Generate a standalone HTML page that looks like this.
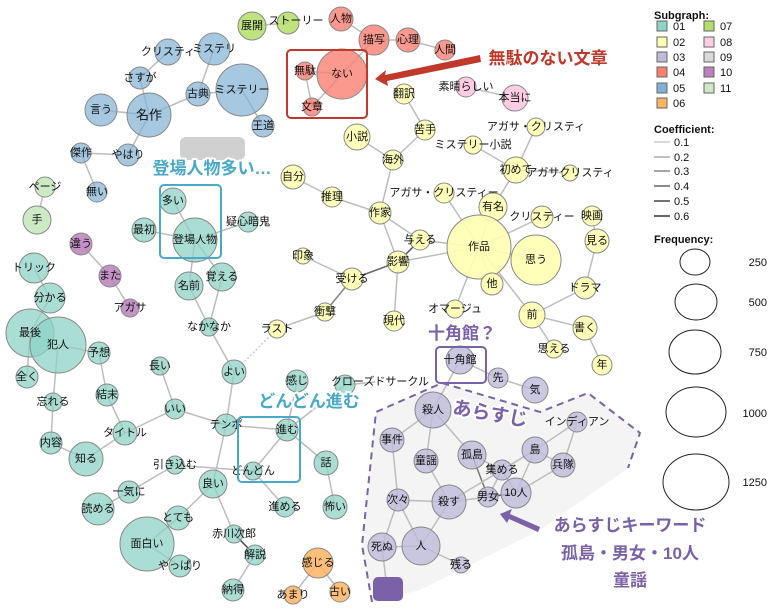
<!DOCTYPE html>
<html><head><meta charset="utf-8"><style>
body{margin:0;background:#fff}
svg{display:block}
text{font-family:"Liberation Sans","Noto Sans CJK JP",sans-serif}
.l{font-size:11px;text-anchor:middle;dominant-baseline:central;fill:#111}
.e line{stroke:#bdbdbd;stroke-width:1.5}
.n circle{stroke:#888;stroke-width:1}
.c1{fill:#8dd3c7;fill-opacity:.75}.c2{fill:#ffffb3;fill-opacity:.9}.c3{fill:#bebada;fill-opacity:.8}.c4{fill:#fb8072;fill-opacity:.8}.c5{fill:#80b1d3;fill-opacity:.7}.c6{fill:#fdb462;fill-opacity:.85}.c7{fill:#b3de69;fill-opacity:.85}.c8{fill:#fccde5}.c10{fill:#bc80bd;fill-opacity:.85}.c11{fill:#ccebc5}
.big{font-weight:bold;stroke:#fff;stroke-width:4px;paint-order:stroke;stroke-linejoin:round}
.lg{font-size:11px;fill:#111}
</style></head><body>
<svg width="771" height="612" viewBox="0 0 771 612" xmlns="http://www.w3.org/2000/svg">
<polygon points="376,412 442,383 540,412 588,393 640,433 628,468 540,530 420,590 372,602 362,545" fill="#f4f4f4"/>
<rect x="180" y="137" width="65" height="23" rx="6" fill="#d0d0d0"/>
<g class="e">
<line x1="252" y1="26" x2="288" y2="23"/>
<line x1="168" y1="52" x2="140" y2="78"/><line x1="140" y1="78" x2="149" y2="115"/><line x1="214" y1="49" x2="198" y2="94"/>
<line x1="198" y1="94" x2="149" y2="115"/><line x1="198" y1="94" x2="242" y2="90"/><line x1="242" y1="90" x2="263" y2="126"/>
<line x1="101" y1="110" x2="149" y2="115"/><line x1="149" y1="115" x2="128" y2="155"/><line x1="81" y1="153" x2="128" y2="155"/><line x1="81" y1="153" x2="97" y2="192"/>
<line x1="341" y1="19" x2="374" y2="40"/><line x1="374" y1="40" x2="408" y2="40"/><line x1="408" y1="40" x2="445" y2="50"/><line x1="374" y1="40" x2="342" y2="74"/>
<line x1="305" y1="71" x2="342" y2="74"/><line x1="305" y1="71" x2="312" y2="107"/><line x1="312" y1="107" x2="342" y2="74"/>
<line x1="466" y1="87" x2="515" y2="98"/>
<line x1="404" y1="94" x2="425" y2="130"/><line x1="425" y1="130" x2="393" y2="160"/><line x1="357" y1="137" x2="393" y2="160"/><line x1="393" y1="160" x2="380" y2="213"/>
<line x1="536" y1="127" x2="516" y2="170"/><line x1="473" y1="145" x2="516" y2="170"/><line x1="516" y1="170" x2="570" y2="173"/><line x1="516" y1="170" x2="493" y2="207"/>
<line x1="293" y1="177" x2="332" y2="197"/><line x1="332" y1="197" x2="380" y2="213"/><line x1="380" y1="213" x2="420" y2="240"/><line x1="380" y1="213" x2="398" y2="262"/>
<line x1="444" y1="193" x2="479" y2="247"/><line x1="493" y1="207" x2="479" y2="247"/><line x1="542" y1="217" x2="479" y2="247"/><line x1="420" y1="240" x2="479" y2="247"/>
<line x1="479" y1="247" x2="536" y2="260"/><line x1="479" y1="247" x2="492" y2="284"/><line x1="479" y1="247" x2="455" y2="309"/><line x1="479" y1="247" x2="532" y2="315"/><line x1="479" y1="247" x2="398" y2="262"/>
<line x1="592" y1="216" x2="597" y2="241"/><line x1="597" y1="241" x2="585" y2="288"/><line x1="585" y1="288" x2="532" y2="315"/><line x1="532" y1="315" x2="585" y2="328"/><line x1="532" y1="315" x2="554" y2="349"/><line x1="585" y1="328" x2="602" y2="365"/>
<line x1="303" y1="256" x2="352" y2="279"/><line x1="352" y1="279" x2="398" y2="262" style="stroke:#666"/><line x1="398" y1="262" x2="420" y2="240" style="stroke:#555"/><line x1="398" y1="262" x2="394" y2="321"/>
<line x1="352" y1="279" x2="325" y2="312" style="stroke:#888"/><line x1="325" y1="312" x2="277" y2="329"/>
<line x1="277" y1="329" x2="234" y2="372" style="stroke:#ccc;stroke-dasharray:2 2"/>
<line x1="173" y1="201" x2="195" y2="240"/><line x1="144" y1="230" x2="195" y2="240"/><line x1="248" y1="222" x2="195" y2="240"/><line x1="195" y1="240" x2="189" y2="286"/><line x1="195" y1="240" x2="222" y2="277"/>
<line x1="189" y1="286" x2="209" y2="327"/><line x1="222" y1="277" x2="209" y2="327"/><line x1="209" y1="327" x2="234" y2="372"/><line x1="234" y1="372" x2="226" y2="425"/>
<line x1="37" y1="220" x2="45" y2="187"/><line x1="81" y1="244" x2="110" y2="276"/><line x1="110" y1="276" x2="130" y2="308"/>
<line x1="34" y1="268" x2="50" y2="298"/><line x1="50" y1="298" x2="30" y2="333"/><line x1="30" y1="333" x2="58" y2="345"/><line x1="30" y1="333" x2="27" y2="377"/><line x1="58" y1="345" x2="99" y2="353"/><line x1="58" y1="345" x2="53" y2="402"/><line x1="53" y1="402" x2="51" y2="443"/>
<line x1="99" y1="353" x2="107" y2="395"/><line x1="107" y1="395" x2="125" y2="433"/><line x1="125" y1="433" x2="86" y2="459"/><line x1="51" y1="443" x2="86" y2="459"/><line x1="125" y1="433" x2="175" y2="409"/>
<line x1="160" y1="366" x2="175" y2="409"/><line x1="175" y1="409" x2="226" y2="425"/><line x1="226" y1="425" x2="287" y2="430"/><line x1="226" y1="425" x2="213" y2="484"/>
<line x1="287" y1="430" x2="253" y2="471"/><line x1="287" y1="430" x2="326" y2="463"/><line x1="287" y1="430" x2="345" y2="385"/><line x1="297" y1="381" x2="287" y2="430"/><line x1="326" y1="463" x2="335" y2="507"/>
<line x1="175" y1="465" x2="253" y2="471"/><line x1="253" y1="471" x2="285" y2="507"/><line x1="175" y1="465" x2="129" y2="492"/><line x1="129" y1="492" x2="98" y2="509"/>
<line x1="213" y1="484" x2="178" y2="518"/><line x1="178" y1="518" x2="147" y2="544"/><line x1="147" y1="544" x2="180" y2="566"/><line x1="213" y1="484" x2="234" y2="534"/><line x1="234" y1="534" x2="255" y2="555" style="stroke:#444"/><line x1="255" y1="555" x2="233" y2="590"/>
<line x1="318" y1="563" x2="293" y2="595"/><line x1="318" y1="563" x2="340" y2="592"/>
<line x1="345" y1="385" x2="375" y2="382"/>
<line x1="460" y1="360" x2="498" y2="378"/><line x1="498" y1="378" x2="535" y2="390"/><line x1="460" y1="360" x2="433" y2="410"/>
<line x1="433" y1="410" x2="392" y2="440"/><line x1="433" y1="410" x2="426" y2="461"/><line x1="433" y1="410" x2="472" y2="455"/><line x1="392" y1="440" x2="398" y2="500"/>
<line x1="426" y1="461" x2="449" y2="502"/><line x1="472" y1="455" x2="488" y2="497" style="stroke:#777"/><line x1="472" y1="455" x2="502" y2="470"/>
<line x1="535" y1="450" x2="563" y2="465"/><line x1="535" y1="450" x2="502" y2="470"/><line x1="535" y1="450" x2="516" y2="493"/><line x1="577" y1="422" x2="563" y2="465"/><line x1="577" y1="422" x2="535" y2="450"/>
<line x1="502" y1="470" x2="516" y2="493"/><line x1="502" y1="470" x2="488" y2="497"/><line x1="563" y1="465" x2="516" y2="493"/><line x1="488" y1="497" x2="516" y2="493" style="stroke:#555"/><line x1="449" y1="502" x2="488" y2="497"/><line x1="449" y1="502" x2="535" y2="450"/>
<line x1="398" y1="500" x2="449" y2="502"/><line x1="398" y1="500" x2="382" y2="547"/><line x1="398" y1="500" x2="421" y2="546"/><line x1="382" y1="547" x2="421" y2="546"/><line x1="449" y1="502" x2="421" y2="546"/><line x1="421" y1="546" x2="461" y2="565"/><line x1="382" y1="547" x2="386" y2="580"/>
</g>
<g class="n">
<circle class="c7" cx="252" cy="26" r="14"/><circle class="c7" cx="288" cy="23" r="11"/>
<circle class="c5" cx="168" cy="52" r="13"/><circle class="c5" cx="214" cy="49" r="16"/><circle class="c5" cx="140" cy="78" r="11"/><circle class="c5" cx="198" cy="94" r="12"/><circle class="c5" cx="242" cy="90" r="26"/><circle class="c5" cx="101" cy="110" r="16"/><circle class="c5" cx="149" cy="115" r="22"/><circle class="c5" cx="263" cy="126" r="11"/><circle class="c5" cx="81" cy="153" r="10"/><circle class="c5" cx="128" cy="155" r="11"/><circle class="c5" cx="97" cy="192" r="10"/>
<circle class="c4" cx="341" cy="19" r="12"/><circle class="c4" cx="374" cy="40" r="15"/><circle class="c4" cx="408" cy="40" r="12"/><circle class="c4" cx="445" cy="50" r="10"/><circle class="c4" cx="342" cy="74" r="25"/><circle class="c4" cx="305" cy="71" r="9"/><circle class="c4" cx="312" cy="107" r="9"/>
<circle class="c8" cx="466" cy="87" r="10"/><circle class="c8" cx="515" cy="98" r="13"/>
<circle class="c2" cx="404" cy="94" r="10"/><circle class="c2" cx="357" cy="137" r="13"/><circle class="c2" cx="425" cy="130" r="10"/><circle class="c2" cx="536" cy="127" r="9"/><circle class="c2" cx="473" cy="145" r="9"/><circle class="c2" cx="393" cy="160" r="10"/><circle class="c2" cx="516" cy="170" r="13"/><circle class="c2" cx="570" cy="173" r="8"/><circle class="c2" cx="293" cy="177" r="12"/><circle class="c2" cx="332" cy="197" r="10"/><circle class="c2" cx="444" cy="193" r="10"/><circle class="c2" cx="493" cy="207" r="14"/><circle class="c2" cx="380" cy="213" r="11"/><circle class="c2" cx="542" cy="217" r="11"/><circle class="c2" cx="592" cy="216" r="10"/><circle class="c2" cx="420" cy="240" r="10"/><circle class="c2" cx="479" cy="247" r="32"/><circle class="c2" cx="597" cy="241" r="12"/><circle class="c2" cx="536" cy="260" r="25"/><circle class="c2" cx="303" cy="256" r="8"/><circle class="c2" cx="398" cy="262" r="11"/><circle class="c2" cx="352" cy="279" r="11"/><circle class="c2" cx="492" cy="284" r="11"/><circle class="c2" cx="585" cy="288" r="11"/><circle class="c2" cx="325" cy="312" r="9"/><circle class="c2" cx="455" cy="309" r="9"/><circle class="c2" cx="532" cy="315" r="13"/><circle class="c2" cx="394" cy="321" r="10"/><circle class="c2" cx="585" cy="328" r="12"/><circle class="c2" cx="554" cy="349" r="9"/><circle class="c2" cx="602" cy="365" r="10"/><circle class="c2" cx="277" cy="329" r="9"/>
<circle class="c3" cx="460" cy="360" r="14"/><circle class="c3" cx="498" cy="378" r="10"/><circle class="c3" cx="535" cy="390" r="13"/><circle class="c3" cx="433" cy="410" r="18"/><circle class="c3" cx="577" cy="422" r="10"/><circle class="c3" cx="392" cy="440" r="12"/><circle class="c3" cx="426" cy="461" r="12"/><circle class="c3" cx="472" cy="455" r="14"/><circle class="c3" cx="535" cy="450" r="13"/><circle class="c3" cx="563" cy="465" r="12"/><circle class="c3" cx="502" cy="470" r="10"/><circle class="c3" cx="516" cy="493" r="15"/><circle class="c3" cx="488" cy="497" r="10"/><circle class="c3" cx="398" cy="500" r="11"/><circle class="c3" cx="449" cy="502" r="17"/><circle class="c3" cx="382" cy="547" r="14"/><circle class="c3" cx="421" cy="546" r="19"/><circle class="c3" cx="461" cy="565" r="8"/>
<circle class="c1" cx="173" cy="201" r="13"/><circle class="c1" cx="144" cy="230" r="12"/><circle class="c1" cx="195" cy="240" r="22"/><circle class="c1" cx="248" cy="222" r="10"/><circle class="c1" cx="189" cy="286" r="14"/><circle class="c1" cx="222" cy="277" r="14"/><circle class="c1" cx="209" cy="327" r="9"/>
<circle class="c1" cx="34" cy="268" r="15"/><circle class="c1" cx="50" cy="298" r="15"/><circle class="c1" cx="30" cy="333" r="24"/><circle class="c1" cx="58" cy="345" r="28"/><circle class="c1" cx="27" cy="377" r="11"/><circle class="c1" cx="99" cy="353" r="11"/><circle class="c1" cx="53" cy="402" r="9"/><circle class="c1" cx="160" cy="366" r="9"/><circle class="c1" cx="234" cy="372" r="12"/><circle class="c1" cx="107" cy="395" r="11"/><circle class="c1" cx="175" cy="409" r="10"/><circle class="c1" cx="226" cy="425" r="11"/><circle class="c1" cx="125" cy="433" r="12"/><circle class="c1" cx="51" cy="443" r="11"/><circle class="c1" cx="86" cy="459" r="17"/><circle class="c1" cx="287" cy="430" r="11"/><circle class="c1" cx="326" cy="463" r="12"/><circle class="c1" cx="297" cy="381" r="11"/><circle class="c1" cx="345" cy="385" r="10"/><circle class="c1" cx="175" cy="465" r="9"/><circle class="c1" cx="253" cy="471" r="9"/><circle class="c1" cx="213" cy="484" r="14"/><circle class="c1" cx="129" cy="492" r="11"/><circle class="c1" cx="98" cy="509" r="16"/><circle class="c1" cx="178" cy="518" r="12"/><circle class="c1" cx="147" cy="544" r="27"/><circle class="c1" cx="234" cy="534" r="9"/><circle class="c1" cx="285" cy="507" r="10"/><circle class="c1" cx="335" cy="507" r="12"/><circle class="c1" cx="255" cy="555" r="10"/><circle class="c1" cx="180" cy="566" r="11"/><circle class="c1" cx="233" cy="590" r="11"/>
<circle class="c6" cx="318" cy="563" r="15"/><circle class="c6" cx="293" cy="595" r="9"/><circle class="c6" cx="340" cy="592" r="10"/>
<circle class="c10" cx="81" cy="244" r="11"/><circle class="c10" cx="110" cy="276" r="11"/><circle class="c10" cx="130" cy="308" r="9"/>
<circle class="c11" cx="45" cy="187" r="10"/><circle class="c11" cx="37" cy="220" r="14"/>
</g>
<g class="l">
<text x="252" y="26">展開</text><text x="296" y="21">ストーリー</text>
<text x="168" y="52">クリスティ</text><text x="214" y="49">ミステリ</text><text x="140" y="78">さすが</text><text x="198" y="94">古典</text><text x="242" y="90">ミステリー</text><text x="101" y="110">言う</text><text x="149" y="115" style="font-size:13px">名作</text><text x="263" y="126">王道</text><text x="81" y="153">傑作</text><text x="128" y="155">やはり</text><text x="97" y="192">無い</text>
<text x="341" y="19">人物</text><text x="374" y="40">描写</text><text x="408" y="40">心理</text><text x="445" y="50">人間</text><text x="342" y="74">ない</text><text x="305" y="71">無駄</text><text x="312" y="107">文章</text>
<text x="466" y="87">素晴らしい</text><text x="515" y="98">本当に</text>
<text x="404" y="94">翻訳</text><text x="357" y="137">小説</text><text x="425" y="130">苦手</text><text x="536" y="127">アガサ・クリスティ</text><text x="473" y="145">ミステリー小説</text><text x="393" y="160">海外</text><text x="516" y="170">初めて</text><text x="570" y="173">アガサクリスティ</text><text x="293" y="177">自分</text><text x="332" y="197">推理</text><text x="444" y="193">アガサ・クリスティー</text><text x="493" y="207">有名</text><text x="380" y="213">作家</text><text x="542" y="217">クリスティー</text><text x="592" y="216">映画</text><text x="420" y="240">与える</text><text x="479" y="247">作品</text><text x="597" y="241">見る</text><text x="536" y="260">思う</text><text x="303" y="256">印象</text><text x="398" y="262">影響</text><text x="352" y="279">受ける</text><text x="492" y="284">他</text><text x="585" y="288">ドラマ</text><text x="325" y="312">衝撃</text><text x="455" y="309">オマージュ</text><text x="532" y="315">前</text><text x="394" y="321">現代</text><text x="585" y="328">書く</text><text x="554" y="349">思える</text><text x="602" y="365">年</text><text x="277" y="329">ラスト</text>
<text x="460" y="360">十角館</text><text x="498" y="378">先</text><text x="535" y="390">気</text><text x="433" y="410">殺人</text><text x="577" y="422">インディアン</text><text x="392" y="440">事件</text><text x="426" y="461">童謡</text><text x="472" y="455">孤島</text><text x="535" y="450">島</text><text x="563" y="465">兵隊</text><text x="502" y="470">集める</text><text x="516" y="493">10人</text><text x="488" y="497">男女</text><text x="398" y="500">次々</text><text x="449" y="502">殺す</text><text x="382" y="547">死ぬ</text><text x="421" y="546">人</text><text x="461" y="565">残る</text>
<text x="173" y="201">多い</text><text x="144" y="230">最初</text><text x="195" y="240">登場人物</text><text x="248" y="222">疑心暗鬼</text><text x="189" y="286">名前</text><text x="222" y="277">覚える</text><text x="209" y="327">なかなか</text>
<text x="34" y="268">トリック</text><text x="50" y="298">分かる</text><text x="30" y="333">最後</text><text x="58" y="345">犯人</text><text x="27" y="377">全く</text><text x="99" y="353">予想</text><text x="53" y="402">忘れる</text><text x="160" y="366">長い</text><text x="234" y="372">よい</text><text x="107" y="395">結末</text><text x="175" y="409">いい</text><text x="226" y="425">テンポ</text><text x="125" y="433">タイトル</text><text x="51" y="443">内容</text><text x="86" y="459">知る</text><text x="287" y="430">進む</text><text x="326" y="463">話</text><text x="297" y="381">感じ</text><text x="380" y="382">クローズドサークル</text><text x="175" y="465">引き込む</text><text x="253" y="471">どんどん</text><text x="213" y="484">良い</text><text x="129" y="492">一気に</text><text x="98" y="509">読める</text><text x="178" y="518">とても</text><text x="147" y="544">面白い</text><text x="234" y="534">赤川次郎</text><text x="285" y="507">進める</text><text x="335" y="507">怖い</text><text x="255" y="555">解説</text><text x="180" y="566">やっぱり</text><text x="233" y="590">納得</text>
<text x="318" y="563">感じる</text><text x="293" y="595">あまり</text><text x="340" y="592">古い</text>
<text x="81" y="244">違う</text><text x="110" y="276">また</text><text x="130" y="308">アガサ</text>
<text x="45" y="187">ページ</text><text x="37" y="220">手</text>
</g>
<rect x="287" y="50" width="80" height="68" rx="4" fill="none" stroke="#c0392b" stroke-width="2"/>
<rect x="160" y="185" width="61" height="73" rx="4" fill="none" stroke="#4aa8c8" stroke-width="2"/>
<rect x="238" y="417" width="62" height="65" rx="4" fill="none" stroke="#4aa8c8" stroke-width="2"/>
<rect x="436" y="347" width="50" height="36" rx="4" fill="none" stroke="#7b62a8" stroke-width="2"/>
<polyline points="372,602 362,545 376,412 442,383 540,412 588,393 640,433 628,468" fill="none" stroke="#7b62a8" stroke-width="2" stroke-dasharray="7 5"/>
<rect x="373" y="577" width="30" height="24" rx="5" fill="#7b62a8"/>
<polygon points="480,55 385,75 386,70 375,79 388,86 387,81 481,62" fill="#c0392b"/>
<polygon points="540,527 510,514 512,509 500,514 507,523 509,519 538,532" fill="#7b62a8"/>
<text class="big" x="548" y="64" style="font-size:17px;text-anchor:middle;fill:#c0392b">無駄のない文章</text>
<text class="big" x="212" y="174" style="font-size:17px;text-anchor:middle;fill:#4aa8c8">登場人物多い…</text>
<text class="big" x="309" y="407" style="font-size:17px;text-anchor:middle;fill:#4aa8c8">どんどん進む</text>
<text class="big" x="462" y="339" style="font-size:17px;text-anchor:middle;fill:#7b62a8">十角館？</text>
<text class="big" x="490" y="420" transform="rotate(10 490 415)" style="font-size:19px;text-anchor:middle;fill:#7b62a8">あらすじ</text>
<text class="big" x="630" y="531" style="font-size:17px;text-anchor:middle;fill:#7b62a8">あらすじキーワード</text>
<text class="big" x="630" y="559" style="font-size:17px;text-anchor:middle;fill:#7b62a8">孤島・男女・10人</text>
<text class="big" x="630" y="586" style="font-size:17px;text-anchor:middle;fill:#7b62a8">童謡</text>
<g class="lg">
<text x="654" y="19" style="font-weight:bold">Subgraph:</text>
<rect x="657" y="21" width="10" height="10" fill="#8dd3c7" stroke="#666"/><text x="673" y="30">01</text>
<rect x="657" y="37" width="10" height="10" fill="#ffffb3" stroke="#666"/><text x="673" y="46">02</text>
<rect x="657" y="52" width="10" height="10" fill="#bebada" stroke="#666"/><text x="673" y="61">03</text>
<rect x="657" y="67" width="10" height="10" fill="#fb8072" stroke="#666"/><text x="673" y="76">04</text>
<rect x="657" y="83" width="10" height="10" fill="#80b1d3" stroke="#666"/><text x="673" y="92">05</text>
<rect x="657" y="98" width="10" height="10" fill="#fdb462" stroke="#666"/><text x="673" y="107">06</text>
<rect x="704" y="21" width="10" height="10" fill="#b3de69" stroke="#666"/><text x="720" y="30">07</text>
<rect x="704" y="37" width="10" height="10" fill="#fccde5" stroke="#666"/><text x="720" y="46">08</text>
<rect x="704" y="52" width="10" height="10" fill="#d9d9d9" stroke="#666"/><text x="720" y="61">09</text>
<rect x="704" y="67" width="10" height="10" fill="#bc80bd" stroke="#666"/><text x="720" y="76">10</text>
<rect x="704" y="83" width="10" height="10" fill="#ccebc5" stroke="#666"/><text x="720" y="92">11</text>
<text x="654" y="133" style="font-weight:bold">Coefficient:</text>
<line x1="654" y1="142" x2="670" y2="142" stroke="#ccc" stroke-width="1.5"/><text x="674" y="146">0.1</text>
<line x1="654" y1="157" x2="670" y2="157" stroke="#aaa" stroke-width="1.5"/><text x="674" y="161">0.2</text>
<line x1="654" y1="171" x2="670" y2="171" stroke="#888" stroke-width="1.5"/><text x="674" y="175">0.3</text>
<line x1="654" y1="186" x2="670" y2="186" stroke="#666" stroke-width="1.5"/><text x="674" y="190">0.4</text>
<line x1="654" y1="201" x2="670" y2="201" stroke="#444" stroke-width="1.5"/><text x="674" y="205">0.5</text>
<line x1="654" y1="216" x2="670" y2="216" stroke="#333" stroke-width="1.5"/><text x="674" y="220">0.6</text>
<text x="654" y="243" style="font-weight:bold">Frequency:</text>
<g fill="none" stroke="#222">
<ellipse cx="695" cy="262" rx="15" ry="13"/><ellipse cx="696" cy="302" rx="21" ry="18"/><ellipse cx="695" cy="352" rx="26" ry="22"/><ellipse cx="696" cy="412" rx="30" ry="25"/><ellipse cx="696" cy="482" rx="33" ry="28"/>
</g>
<g style="text-anchor:end"><text x="767" y="266">250</text><text x="767" y="306">500</text><text x="767" y="356">750</text><text x="767" y="417">1000</text><text x="767" y="486">1250</text></g>
</g>
</svg>
</body></html>
